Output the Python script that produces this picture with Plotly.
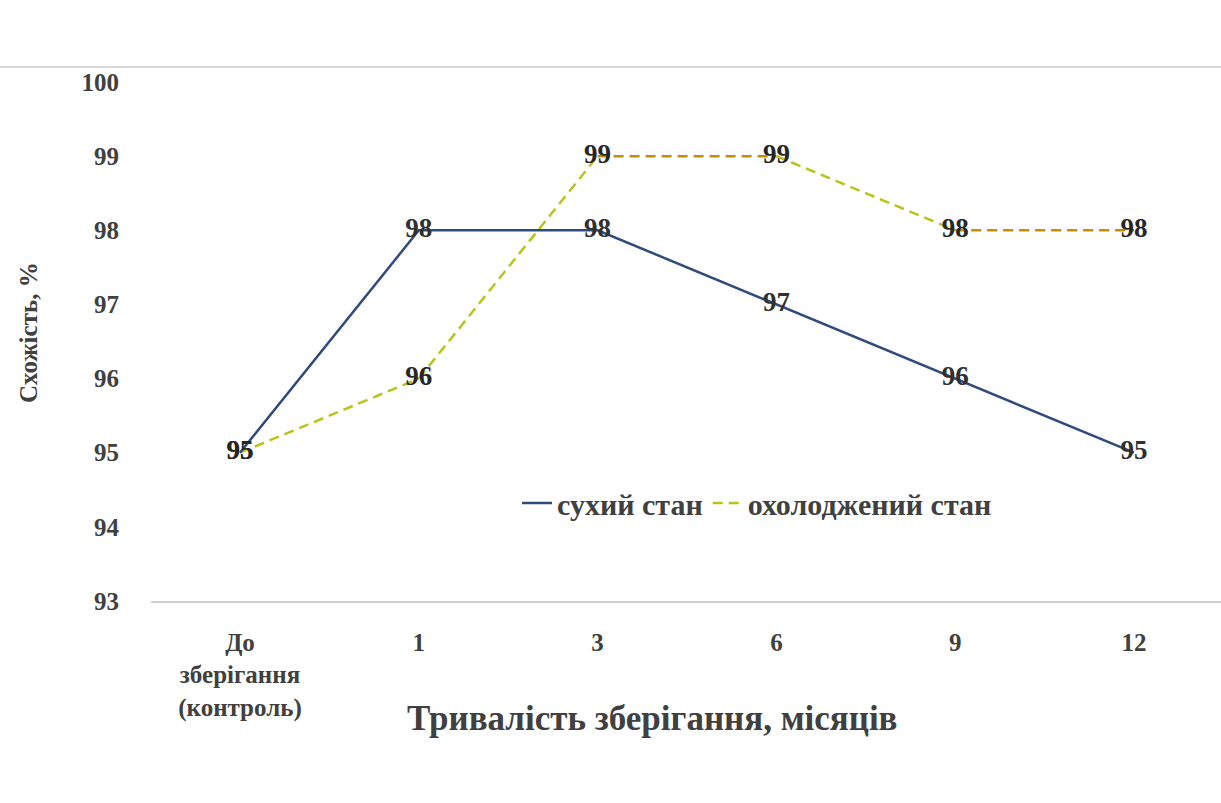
import plotly.graph_objects as go

categories = ["До<br>зберігання<br>(контроль)", "1", "3", "6", "9", "12"]
dry = [95, 98, 98, 97, 96, 95]
cooled = [95, 96, 99, 99, 98, 98]
y_ticks = [93, 94, 95, 96, 97, 98, 99, 100]
series_names = ["сухий стан", "охолоджений стан"]

FONT = "Liberation Serif"
BLUE = "#2f4b7c"
YG = "#b8c41c"
GOLD = "#bf9000"
TXT = "#404040"

W, H = 1221, 803
L, T = 151, 82
PLOT_BOTTOM = 601
B = H - PLOT_BOTTOM
PW = W - L
PH = PLOT_BOTTOM - T
UNIT = (1134 - 240) / 5.0
X_RANGE = [-(240 - L) / UNIT, 5 + (W - 1134) / UNIT]


def px_x(x):
    return (x - L) / PW


def px_y(y):
    return (PLOT_BOTTOM - y) / PH


def bold(s):
    return "<br>".join("<b>%s</b>" % p for p in s.split("<br>"))


fig = go.Figure()

# dashed series drawn segment by segment (flat segments gold, sloped ones yellow-green)
for i in range(len(categories) - 1):
    col = GOLD if cooled[i] == cooled[i + 1] else YG
    fig.add_trace(go.Scatter(
        x=categories[i:i + 2], y=cooled[i:i + 2], mode="lines",
        line=dict(color=col, width=2.5, dash="10px,6px"),
        showlegend=False, hoverinfo="skip"))

fig.add_trace(go.Scatter(
    x=categories, y=dry, mode="lines+text", name=bold(series_names[0]),
    line=dict(color=BLUE, width=2.5),
    text=[bold(str(v)) for v in dry], textposition="middle center",
    textfont=dict(family=FONT, size=27, color="#303030"),
    legendrank=1))
fig.add_trace(go.Scatter(
    x=categories, y=cooled, mode="text",
    text=[bold(str(v)) for v in cooled], textposition="middle center",
    textfont=dict(family=FONT, size=27, color="#262626"),
    showlegend=False))
fig.add_trace(go.Scatter(
    x=[None], y=[None], mode="lines", name=bold(series_names[1]),
    line=dict(color=YG, width=2.5, dash="10px,6px"), legendrank=2))

fig.update_layout(
    width=W, height=H,
    margin=dict(l=L, r=0, t=T, b=B),
    paper_bgcolor="white", plot_bgcolor="white",
    font=dict(family=FONT, size=24, color=TXT),
    showlegend=True,
    legend=dict(orientation="h", x=px_x(757), xanchor="center", y=px_y(503), yanchor="middle",
                font=dict(family=FONT, size=30, color=TXT),
                tracegroupgap=0, bgcolor="rgba(0,0,0,0)"),
    xaxis=dict(type="category", range=X_RANGE, autorange=False, showgrid=False, showline=True,
               linecolor="#d0d0d0", linewidth=1.5,
               ticks="outside", ticklen=18, tickcolor="rgba(0,0,0,0)",
               tickvals=categories, ticktext=[bold(c) for c in categories],
               tickfont=dict(family=FONT, size=25, color=TXT), zeroline=False),
    yaxis=dict(range=[93, 100], tickvals=y_ticks, ticktext=[bold(str(v)) for v in y_ticks],
               showgrid=False, showline=False, zeroline=False,
               ticks="outside", ticklen=26, tickcolor="rgba(0,0,0,0)",
               tickfont=dict(family=FONT, size=25, color=TXT)),
    annotations=[
        dict(text="<b>Схожість, %</b>", xref="paper", yref="paper", x=px_x(28), y=px_y(333),
             xanchor="center", yanchor="middle", textangle=-90, showarrow=False,
             font=dict(family=FONT, size=25, color=TXT)),
        dict(text="<b>Тривалість зберігання, місяців</b>", xref="paper", yref="paper",
             x=px_x(652), y=px_y(718), xanchor="center", yanchor="middle", showarrow=False,
             font=dict(family=FONT, size=35, color=TXT)),
    ],
    shapes=[dict(type="line", xref="paper", yref="paper", x0=px_x(0), x1=1.0,
                 y0=px_y(67), y1=px_y(67), line=dict(color="#c8c8c8", width=1.5))],
)

fig.write_html("out.html", config={"displayModeBar": False},
               post_script="document.body.style.margin='0px';document.body.style.overflow='hidden';")
